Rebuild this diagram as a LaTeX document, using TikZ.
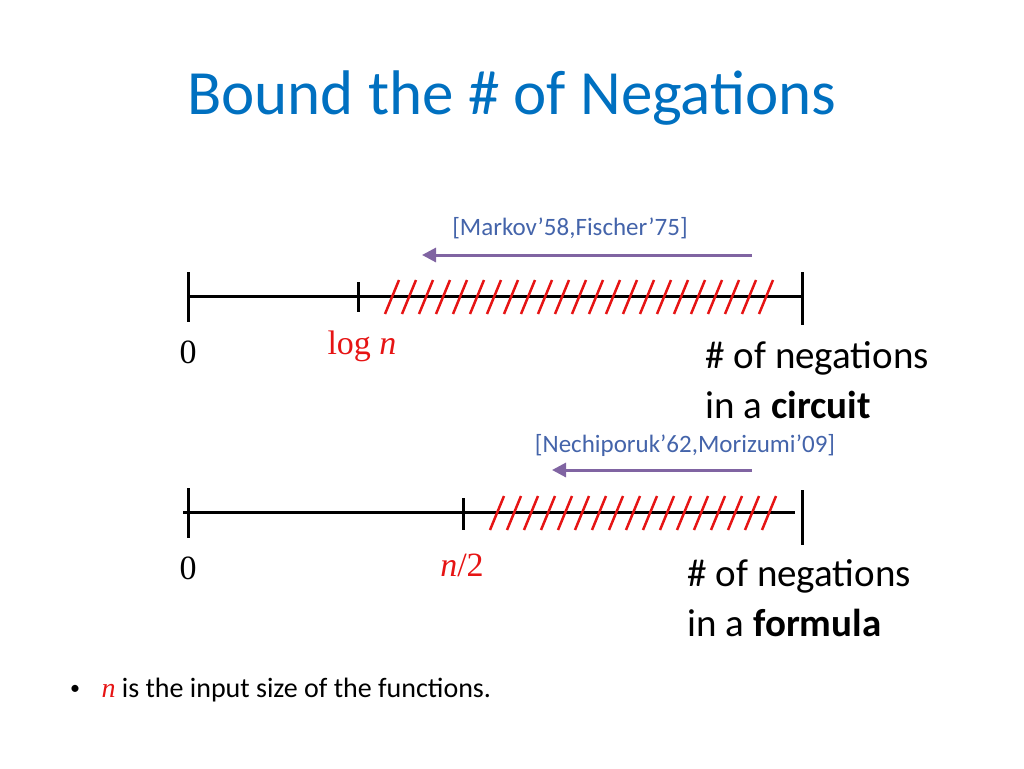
\documentclass[tikz,border=0pt]{standalone}
\usepackage{fontspec}
\setmainfont{Carlito}
\newfontfamily\mserif{Liberation Serif}
\usetikzlibrary{arrows.meta}
\definecolor{titleblue}{RGB}{0,112,192}
\definecolor{refblue}{RGB}{68,100,170}
\definecolor{arrpurple}{RGB}{128,100,162}
\definecolor{hatchred}{RGB}{230,20,20}
\tikzset{axis/.style={line width=3pt,black},
tick/.style={line width=3pt,black},
hatch/.style={line width=2.5pt,hatchred},
parrow/.style={line width=3pt,arrpurple,-{Triangle[length=14pt,width=14pt]}},
ref/.style={font=\fontsize{25}{30}\selectfont,text=refblue},
big/.style={font=\fontsize{39}{46}\selectfont,anchor=west},
num/.style={font=\mserif\fontsize{34}{40}\selectfont}}
\begin{document}
\begin{tikzpicture}[x=1pt,y=-1pt]
\useasboundingbox (0,0) rectangle (1024,768);
\node[font=\fontsize{63}{72}\selectfont,text=titleblue] (title) at (512,98) {Bound the \# of Negations};
% line 1
\coordinate (a1) at (188,296); \coordinate (b1) at (802,296);
\draw[axis] (a1) -- (b1);
\draw[tick] (188,272) -- (188,322);
\draw[tick] (358,282) -- (358,312);
\draw[tick] (802,272) -- (802,325);
\foreach \i in {0,...,22} \draw[hatch] (385+17*\i,314) -- (399+17*\i,280);
\node[ref] (r1) at (570,228) {[Markov’58,Fischer’75]};
\coordinate (s1) at (752,255); \coordinate (e1) at (422,255);
\draw[parrow] (s1) -- (e1);
\node[num] (z1) at (188,352) {0};
\node[num,text=hatchred] (l1) at (362,346) {log \textit{n}};
\node[big] (c1) at (702,358) {\# of negations};
\node[big] (c2) at (702,405) {in a \textbf{circuit}};
% line 2
\coordinate (a2) at (183,512); \coordinate (b2) at (795,512);
\draw[axis] (a2) -- (b2);
\draw[tick] (188,488) -- (188,538);
\draw[tick] (463,498) -- (463,530);
\draw[tick] (802,490) -- (802,545);
\foreach \i in {0,...,16} \draw[hatch] (490+17*\i,530) -- (504+17*\i,496);
\node[ref] (r2) at (685,445) {[Nechiporuk’62,Morizumi’09]};
\coordinate (s2) at (752,470); \coordinate (e2) at (552,470);
\draw[parrow] (s2) -- (e2);
\node[num] (z2) at (188,568) {0};
\node[num,text=hatchred] (l2) at (462,565) {\textit{n}/2};
\node[big] (f1) at (684,576) {\# of negations};
\node[big] (f2) at (684,623) {in a \textbf{formula}};
% bullet
\node[font=\fontsize{20}{24}\selectfont] (bul) at (75,690) {•};
\node[font=\fontsize{28}{32}\selectfont,anchor=west] (note) at (98,690) {\textcolor{hatchred}{\mserif\itshape n} is the input size of the functions.};
\end{tikzpicture}
\end{document}
